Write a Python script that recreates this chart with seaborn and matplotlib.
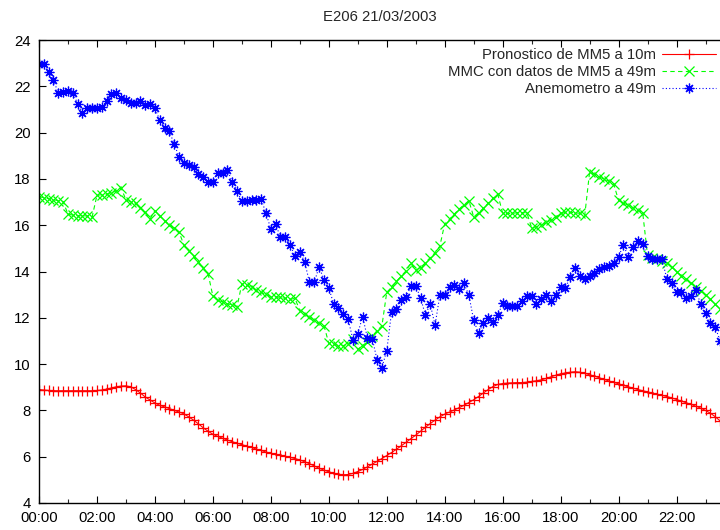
import numpy as np
import pandas as pd
import matplotlib
matplotlib.use("Agg")
import matplotlib.pyplot as plt
import seaborn as sns

# Datos: una muestra cada 10 minutos, de 00:00 a 23:30
minutos = np.arange(0, 1420, 10)
horas = minutos / 60.0

pronostico_mm5 = [
    8.90, 8.88, 8.86, 8.85, 8.85, 8.85,
    8.85, 8.85, 8.85, 8.85, 8.85, 8.85,
    8.86, 8.88, 8.92, 8.97, 9.02, 9.05,
    9.06, 9.02, 8.90, 8.75, 8.58, 8.45,
    8.32, 8.22, 8.15, 8.08, 8.00, 7.93,
    7.85, 7.72, 7.58, 7.42, 7.25, 7.10,
    6.97, 6.88, 6.80, 6.72, 6.65, 6.58,
    6.52, 6.46, 6.40, 6.33, 6.27, 6.20,
    6.15, 6.10, 6.06, 6.02, 5.97, 5.92,
    5.86, 5.78, 5.70, 5.60, 5.50, 5.42,
    5.35, 5.28, 5.24, 5.22, 5.23, 5.28,
    5.36, 5.45, 5.56, 5.68, 5.80, 5.92,
    6.05, 6.18, 6.32, 6.47, 6.62, 6.78,
    6.93, 7.10, 7.27, 7.43, 7.58, 7.72,
    7.84, 7.93, 8.02, 8.12, 8.22, 8.34,
    8.46, 8.60, 8.75, 8.90, 9.03, 9.12,
    9.16, 9.18, 9.19, 9.20, 9.20, 9.22,
    9.25, 9.28, 9.32, 9.38, 9.45, 9.52,
    9.58, 9.62, 9.65, 9.67, 9.65, 9.60,
    9.54, 9.48, 9.41, 9.34, 9.27, 9.21,
    9.15, 9.08, 9.02, 8.96, 8.90, 8.85,
    8.80, 8.75, 8.70, 8.65, 8.60, 8.54,
    8.47, 8.40, 8.33, 8.26, 8.18, 8.10,
    8.00, 7.88, 7.73, 7.55,
]

mmc_mm5_49m = [
    17.23, 17.19, 17.14, 17.10, 17.06, 17.02,
    16.47, 16.44, 16.41, 16.41, 16.40, 16.36,
    17.29, 17.32, 17.34, 17.40, 17.48, 17.62,
    17.09, 17.02, 16.95, 16.75, 16.56, 16.26,
    16.63, 16.40, 16.20, 16.00, 15.86, 15.71,
    15.14, 14.90, 14.67, 14.41, 14.16, 13.91,
    12.94, 12.76, 12.69, 12.60, 12.56, 12.48,
    13.46, 13.42, 13.32, 13.20, 13.10, 13.01,
    12.91, 12.91, 12.88, 12.84, 12.80, 12.84,
    12.31, 12.16, 12.05, 11.90, 11.76, 11.66,
    10.90, 10.86, 10.80, 10.80, 10.87, 11.07,
    10.64, 10.80, 10.96, 11.20, 11.45, 11.65,
    13.10, 13.32, 13.57, 13.80, 14.03, 14.38,
    14.05, 14.17, 14.38, 14.60, 14.81, 15.10,
    16.06, 16.25, 16.48, 16.70, 16.88, 17.06,
    16.36, 16.53, 16.73, 16.95, 17.16, 17.33,
    16.51, 16.51, 16.51, 16.54, 16.54, 16.54,
    15.89, 15.93, 16.00, 16.12, 16.22, 16.34,
    16.51, 16.55, 16.55, 16.54, 16.51, 16.44,
    18.29, 18.20, 18.09, 17.99, 17.90, 17.77,
    17.07, 16.96, 16.86, 16.75, 16.64, 16.53,
    14.70, 14.60, 14.52, 14.45, 14.35, 14.20,
    14.00, 13.82, 13.66, 13.50, 13.33, 13.17,
    13.00, 12.80, 12.58, 12.38,
]

anemometro_49m = [
    22.95, 22.95, 22.60, 22.27, 21.70, 21.75,
    21.78, 21.73, 21.25, 20.85, 21.05, 21.05,
    21.05, 21.10, 21.35, 21.65, 21.72, 21.50,
    21.40, 21.30, 21.30, 21.35, 21.20, 21.25,
    21.05, 20.55, 20.20, 20.05, 19.50, 18.95,
    18.70, 18.58, 18.50, 18.20, 18.07, 17.88,
    17.88, 18.24, 18.25, 18.38, 17.88, 17.47,
    17.03, 17.03, 17.10, 17.10, 17.13, 16.51,
    15.84, 16.04, 15.48, 15.48, 15.14, 14.67,
    14.86, 14.42, 13.53, 13.53, 14.21, 13.63,
    13.30, 12.60, 12.41, 12.16, 11.94, 11.06,
    11.32, 12.05, 11.14, 11.10, 10.18, 9.85,
    10.58, 12.26, 12.38, 12.75, 12.88, 13.37,
    13.38, 12.86, 12.12, 12.60, 11.68, 12.98,
    12.98, 13.31, 13.43, 13.24, 13.49, 12.98,
    11.90, 11.33, 11.77, 11.97, 11.80, 12.12,
    12.62, 12.51, 12.51, 12.51, 12.74, 12.94,
    12.94, 12.60, 12.80, 12.98, 12.74, 12.98,
    13.34, 13.30, 13.75, 14.16, 13.80, 13.66,
    13.80, 13.95, 14.12, 14.21, 14.24, 14.35,
    14.64, 15.15, 14.64, 15.07, 15.30, 15.18,
    14.65, 14.53, 14.53, 14.52, 13.68, 13.52,
    13.12, 13.12, 12.84, 12.96, 13.18, 12.61,
    12.20, 11.76, 11.62, 11.00,
]

horas_ticks = list(range(0, 24, 2))
etiquetas_ticks = ["%02d:00" % h for h in horas_ticks]

df = pd.DataFrame({
    "hora": horas,
    "Pronostico de MM5 a 10m": pronostico_mm5,
    "MMC con datos de MM5 a 49m": mmc_mm5_49m,
    "Anemometro a 49m": anemometro_49m,
})

sns.set_style("ticks")
plt.rcParams["font.family"] = ["Liberation Sans", "DejaVu Sans"]
plt.rcParams["font.size"] = 10.7

fig = plt.figure(figsize=(7.2, 5.3), dpi=100)
ax = fig.add_axes([39 / 720, 27 / 530, 681 / 720, 463 / 530])

estilos = [
    ("Pronostico de MM5 a 10m", "#ff0000", "+", "-"),
    ("MMC con datos de MM5 a 49m", "#00ff00", "x", (0, (4, 3))),
    ("Anemometro a 49m", "#0000ff", (8, 2, 0), (0, (1, 2))),
]
for nombre, color, marca, linea in estilos:
    sns.lineplot(data=df, x="hora", y=nombre, ax=ax, estimator=None,
                 color=color, marker=marca, markersize=7, markeredgewidth=0.9,
                 markeredgecolor=color, linestyle=linea, linewidth=0.8,
                 label=nombre)

ax.set_xlim(0, 23.5)
ax.set_ylim(4, 24)
ax.set_yticks(range(4, 25, 2))
ax.set_xticks(horas_ticks)
ax.set_xticklabels(etiquetas_ticks)
ax.set_xticks(range(0, 24), minor=True)
ax.set_xlabel("")
ax.set_ylabel("")
ax.tick_params(direction="in", top=True, right=False, length=5, width=0.8,
               labelsize=10.7, colors="black")
ax.tick_params(axis="y", pad=6)
ax.tick_params(axis="x", pad=6)
ax.tick_params(which="minor", direction="in", top=True, length=3, width=0.8)
for lado in ["left", "bottom", "top"]:
    ax.spines[lado].set_linewidth(1.0)
    ax.spines[lado].set_color("black")
ax.spines["right"].set_visible(False)

ax.set_title("E206 21/03/2003", fontsize=10.7, pad=14)

ax.legend(loc="upper right", bbox_to_anchor=(1.0, 0.992), frameon=False,
          markerfirst=False, numpoints=1, handlelength=3.6,
          handletextpad=0.4, labelspacing=0.2, borderaxespad=0.1,
          borderpad=0.2, fontsize=10.7)

fig.savefig("out.png", dpi=100)
